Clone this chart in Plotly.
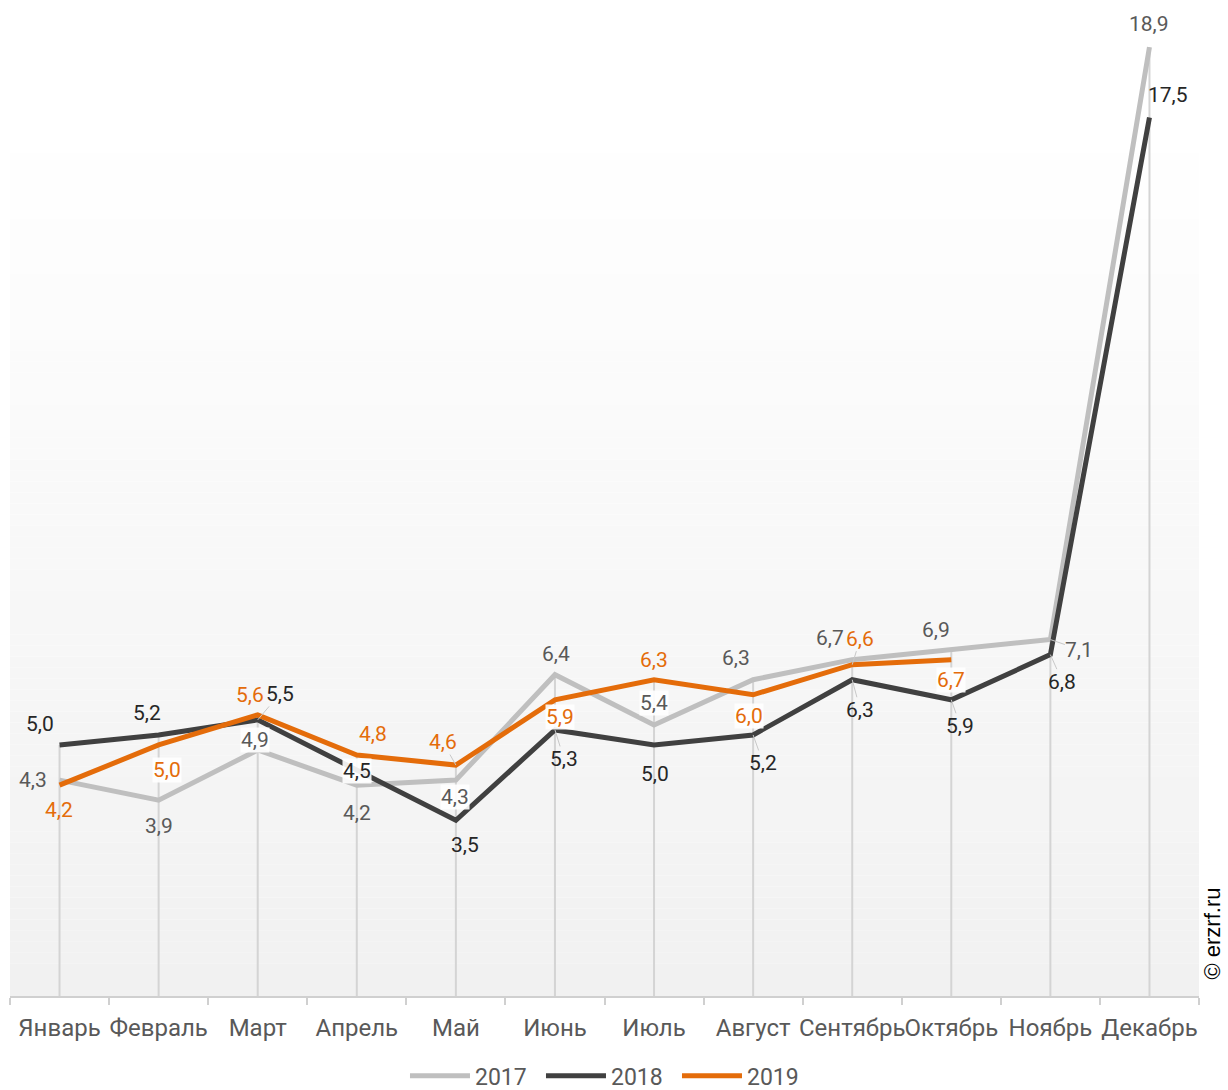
import plotly.graph_objects as go

# Months and yearly values
months = ["Январь", "Февраль", "Март", "Апрель", "Май", "Июнь", "Июль",
          "Август", "Сентябрь", "Октябрь", "Ноябрь", "Декабрь"]
vals_2017 = [4.3, 3.9, 4.9, 4.2, 4.3, 6.4, 5.4, 6.3, 6.7, 6.9, 7.1, 18.9]
vals_2018 = [5.0, 5.2, 5.5, 4.5, 3.5, 5.3, 5.0, 5.2, 6.3, 5.9, 6.8, 17.5]
vals_2019 = [4.2, 5.0, 5.6, 4.8, 4.6, 5.9, 6.3, 6.0, 6.6, 6.7]
years = ["2017", "2018", "2019"]

# Styling per series
line_colors = {"2017": "#bfbfbf", "2018": "#404040", "2019": "#e46c0a"}
label_colors = {"2017": "#595959", "2018": "#262626", "2019": "#e46c0a"}

# Label placement: (dx, dy, leader line, white background)
label_pos = {
    "2017": [(-27, 0, 0, 0), (0, 26, 0, 0), (-3, -10, 0, 1), (0, 28, 0, 0),
             (-1, 17, 0, 1), (1, -21, 0, 0), (0, -22, 0, 1), (-17, -22, 0, 0),
             (-22, -22, 0, 0), (-15, -20, 0, 0), (29, 10, 1, 0), (0, -23, 0, 0)],
    "2018": [(-20, -21, 0, 0), (-12, -22, 0, 0), (22, -26, 1, 0), (0, 1, 0, 1),
             (9, 25, 0, 0), (9, 29, 1, 0), (1, 29, 0, 0), (10, 28, 1, 0),
             (8, 30, 1, 0), (9, 26, 1, 0), (12, 27, 1, 0), (19, -22, 0, 0)],
    "2019": [(-1, 25, 0, 0), (8, 25, 0, 1), (-8, -20, 0, 0), (16, -21, 0, 0),
             (-13, -23, 1, 0), (5, 17, 0, 1), (0, -20, 0, 0), (-4, 21, 0, 1),
             (8, -26, 1, 0), (0, 20, 0, 1)],
}

series = {"2017": vals_2017, "2018": vals_2018, "2019": vals_2019}

fig = go.Figure()

# Vertical drop lines from the highest value of each month to the axis
drop_x, drop_y = [], []
for i, m in enumerate(months):
    top = max(s[i] for s in series.values() if i < len(s))
    drop_x += [m, m, None]
    drop_y += [0, top, None]
fig.add_trace(go.Scatter(x=drop_x, y=drop_y, mode="lines",
                         line=dict(color="#d4d4d4", width=2),
                         showlegend=False, hoverinfo="skip"))

for yr in years:
    vals = series[yr]
    fig.add_trace(go.Scatter(x=months[:len(vals)], y=vals, mode="lines", name=yr,
                             line=dict(color=line_colors[yr], width=5)))

annotations = []
for yr in years:
    for i, v in enumerate(series[yr]):
        dx, dy, leader, bg = label_pos[yr][i]
        annotations.append(dict(
            x=months[i], y=v, xref="x", yref="y",
            text=f"{v:.1f}".replace(".", ","),
            showarrow=True, arrowhead=0, arrowwidth=1, standoff=0,
            arrowcolor="#c8c8c8" if leader else "rgba(0,0,0,0)",
            ax=dx, ay=dy,
            bgcolor="rgba(255,255,255,0.9)" if bg else "rgba(0,0,0,0)",
            borderpad=0,
            font=dict(family="Roboto", size=21, color=label_colors[yr]),
        ))

annotations.append(dict(
    text="© erzrf.ru", xref="paper", yref="paper", x=1.0115, y=0.063,
    xanchor="center", yanchor="middle",
    showarrow=False, textangle=-90,
    font=dict(family="Liberation Sans, Arial", size=22, color="#000000"),
))

# Soft vertical gradient behind the plot
shapes = []
n_bands = 80
grad_top = 0.888
for k in range(n_bands):
    y0 = grad_top * k / n_bands
    y1 = grad_top * (k + 1) / n_bands
    frac = (k + 0.5) / n_bands
    c = round(241 + (255 - 241) * frac)
    shapes.append(dict(type="rect", xref="paper", yref="paper",
                       x0=0, x1=1, y0=y0, y1=y1, layer="below",
                       fillcolor=f"rgb({c},{c},{c})", line=dict(width=0)))

fig.update_layout(
    width=1228, height=1090,
    margin=dict(l=10, r=29, t=10, b=94, autoexpand=False),
    paper_bgcolor="white", plot_bgcolor="white",
    font=dict(family="Roboto", size=20, color="#595959"),
    shapes=shapes, annotations=annotations,
    legend=dict(orientation="h", x=0.3322, xanchor="left", y=-0.081, yanchor="middle",
                font=dict(family="Roboto", size=23, color="#595959"),
                bgcolor="rgba(0,0,0,0)", itemwidth=60,
                entrywidth=61, entrywidthmode="pixels"),
    xaxis=dict(type="category", range=[-0.5, 11.5], showgrid=False,
               showline=True, linecolor="#d0d0d0", linewidth=2,
               ticks="outside", tickson="boundaries", ticklen=7, tickcolor="#d0d0d0",
               tickwidth=2, ticklabelstandoff=9, tickangle=0, automargin=False,
               tickfont=dict(family="Roboto", size=24, color="#595959")),
    yaxis=dict(range=[0, 19.64], visible=False, showgrid=False, zeroline=False),
)

fig.write_html("out.html")
